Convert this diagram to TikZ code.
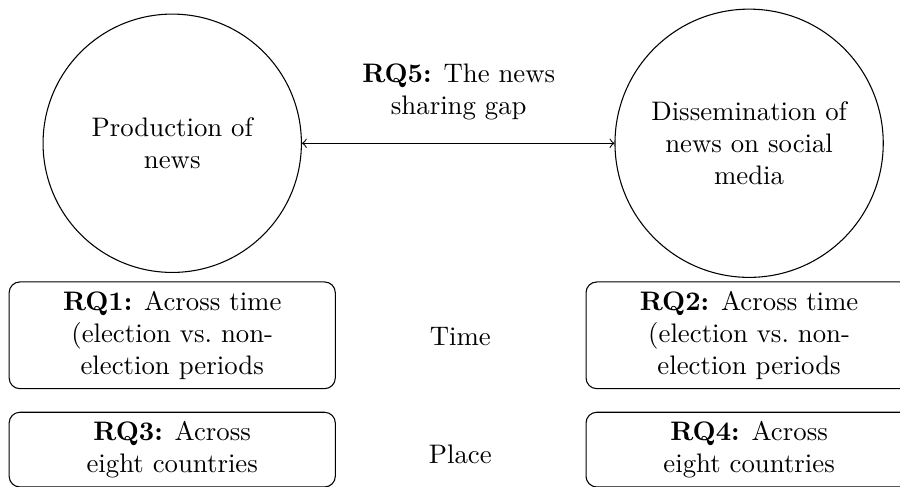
\documentclass[tikz,border=0pt]{standalone}
\usepackage{tikz}

\begin{document}
\begin{tikzpicture}[
    rqbox/.style={draw,rounded corners,align=center,minimum width=4.28cm},
    bubble/.style={draw,circle,align=center}]
      \useasboundingbox (0,0) rectangle (11.81,-6.39);
      \node [bubble,minimum size=3.39cm] (prod) at (2.26,-1.88) {Production of\\news};
      \node [bubble,minimum size=3.52cm] (diss) at (9.83,-1.88) {Dissemination of\\news on social\\media};
      \draw [<->] (prod) -- (diss);
      \node [align=center] (gap) at (6.02,-1.21) {\textbf{RQ5:} The news\\sharing gap};
      \node [rqbox,minimum height=1.40cm] (rqone) at (2.26,-4.40) {\textbf{RQ1:} Across time\\(election vs.\ non-\\election periods};
      \node [rqbox,minimum height=1.40cm] (rqtwo) at (9.83,-4.40) {\textbf{RQ2:} Across time\\(election vs.\ non-\\election periods};
      \node (time) at (6.04,-4.42) {Time};
      \node [rqbox,minimum height=0.96cm] (rqthree) at (2.26,-5.90) {\textbf{RQ3:} Across\\eight countries};
      \node [rqbox,minimum height=0.96cm] (rqfour) at (9.83,-5.90) {\textbf{RQ4:} Across\\eight countries};
      \node (place) at (6.04,-5.96) {Place};
    \end{tikzpicture}
\end{document}
